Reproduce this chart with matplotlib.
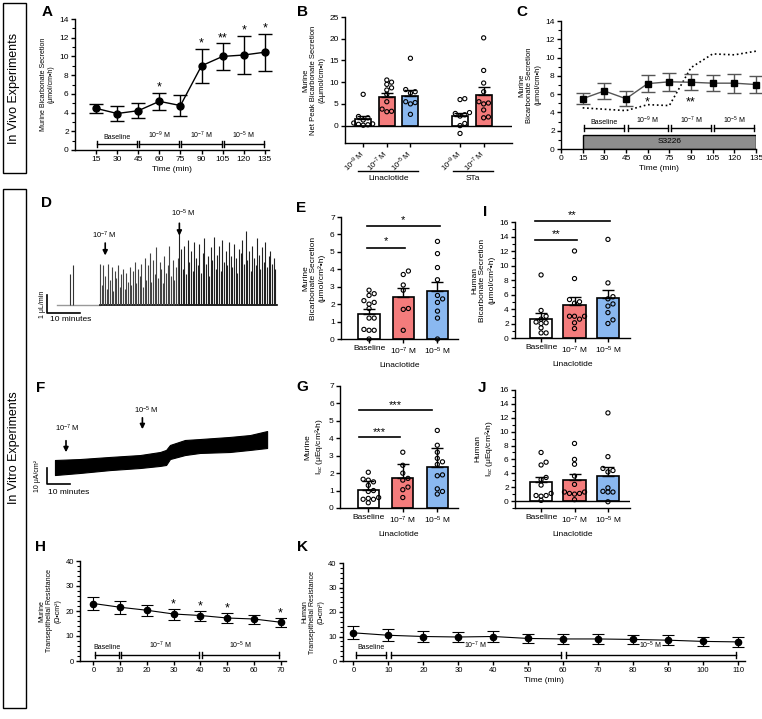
import numpy as np
import matplotlib
matplotlib.use("Agg")
import matplotlib.pyplot as plt
from matplotlib.patches import Rectangle
from matplotlib.ticker import MultipleLocator

plt.rcParams['font.family'] = ['Liberation Sans', 'DejaVu Sans']
plt.rcParams['mathtext.fontset'] = 'custom'
plt.rcParams['mathtext.rm'] = 'Liberation Sans'
plt.rcParams['mathtext.it'] = 'Liberation Sans:italic'
plt.rcParams['mathtext.bf'] = 'Liberation Sans:bold'

### A / C : in vivo time course
time_ac = [15, 30, 45, 60, 75, 90, 105, 120, 135]
mean_a = [4.45, 3.9, 4.2, 5.2, 4.75, 9.0, 10.0, 10.15, 10.45]
sem_a = [0.5, 0.85, 0.8, 0.9, 1.15, 1.8, 1.4, 2.05, 2.0]
stars_a = ['', '', '', '*', '', '*', '**', '*', '*']
mean_c = [5.5, 6.35, 5.5, 7.15, 7.35, 7.3, 7.2, 7.2, 7.05]
sem_c = [0.6, 0.85, 0.8, 0.9, 1.0, 0.85, 0.85, 1.05, 0.9]
lina_alone = [4.5, 4.35, 4.2, 4.85, 4.75, 8.9, 10.4, 10.3, 10.7]
stars_c = ['', '', '', '*', '', '**', '', '', '']
periods_ac = ['Baseline', r'10$^{-9}$ M', r'10$^{-7}$ M', r'10$^{-5}$ M']

### B : net peak secretion
labels_b = [r'10$^{-9}$ M', r'10$^{-7}$ M', r'10$^{-5}$ M', r'10$^{-9}$ M', r'10$^{-7}$ M']
mean_b = [1.6, 6.6, 6.9, 2.3, 7.1]
sem_b = [0.6, 0.9, 1.3, 0.7, 1.7]
pts_b = [[7.2, 2.1, 1.8, 1.3, 0.6, 0.4, 0.2, 0.1, 0.3],
         [10.5, 10.0, 9.5, 8.7, 8.2, 7.2, 5.5, 3.8, 3.3, 3.2],
         [15.5, 8.3, 7.8, 7.5, 5.5, 5.3, 5.0, 2.6],
         [6.2, 6.0, 3.0, 2.8, 2.5, 2.2, 0.5, 0.0, -1.8],
         [20.2, 12.7, 9.8, 7.8, 5.5, 5.2, 5.0, 3.6, 2.0, 1.8]]

### E, I, G, J : in vitro bars
groups = ['Baseline', r'10$^{-7}$ M', r'10$^{-5}$ M']
mean_e = [1.45, 2.4, 2.75]
sem_e = [0.3, 0.5, 0.5]
pts_e = [[2.8, 2.6, 2.5, 2.2, 2.1, 2.0, 1.75, 1.2, 1.2, 0.55, 0.5, 0.5, 0.0],
         [3.9, 3.7, 3.1, 2.8, 1.75, 1.7, 0.5],
         [5.6, 4.9, 4.1, 3.4, 2.5, 2.3, 2.1, 1.6, 1.2, 0.0]]
mean_i = [2.6, 4.5, 5.45]
sem_i = [0.8, 1.1, 1.2]
pts_i = [[8.7, 3.8, 3.0, 2.6, 2.2, 2.1, 2.0, 1.4, 0.7, 0.7],
         [12.0, 8.2, 5.3, 5.0, 4.8, 3.0, 3.0, 3.0, 2.6, 2.1, 1.3],
         [13.6, 7.6, 5.7, 5.4, 4.7, 4.4, 3.5, 2.5, 2.0]]
mean_g = [1.05, 1.72, 2.35]
sem_g = [0.5, 0.8, 1.1]
pts_g = [[2.05, 1.65, 1.6, 1.5, 1.3, 1.0, 0.95, 0.6, 0.55, 0.5, 0.5, 0.3],
         [3.2, 2.45, 2.0, 1.7, 1.6, 1.2, 1.05, 0.6],
         [4.45, 3.6, 3.2, 2.85, 2.65, 2.5, 1.9, 1.85, 1.1, 0.95, 0.8]]
mean_j = [2.7, 3.0, 3.65]
sem_j = [0.7, 0.85, 1.25]
pts_j = [[7.0, 5.6, 5.2, 3.4, 3.1, 2.3, 1.1, 0.8, 0.8, 0.7, 0.1],
         [8.3, 6.0, 5.3, 3.6, 2.4, 1.3, 1.3, 1.1, 1.0, 1.1, 0.2],
         [12.7, 6.4, 4.7, 4.4, 4.2, 1.9, 1.4, 1.3, 1.3, -0.1]]

### D : fluid secretion trace (uL/min)
d_early_t = [4.5, 5.5]
d_early_h = [1.7, 2.2]
d_heights_1 = [2.3, 1.1, 2.2, 1.6, 0.9, 2.3, 1.4, 2.1, 0.8, 1.9, 1.5, 2.2, 1.0, 1.7, 2.0, 0.9,
               1.8, 1.3, 2.1, 1.1, 1.9, 2.4, 1.2, 2.0, 1.6, 2.3, 1.0, 2.6, 1.4, 2.2, 2.9, 1.3,
               2.5, 1.7, 3.2, 1.5, 2.4, 2.0, 1.2, 2.7, 1.8, 2.2, 3.3, 1.6, 2.5, 1.4, 2.1, 2.6]
d_heights_2 = [4.0, 3.1, 2.0, 3.3, 1.7, 3.6, 2.4, 3.0, 1.9, 3.5, 2.6, 2.2, 3.4, 1.8, 2.9, 3.7,
               2.3, 2.7, 1.6, 3.2, 2.5, 3.8, 2.0, 2.8, 3.3, 1.9, 3.6, 2.4, 3.0, 2.2, 3.5, 2.7,
               2.1, 3.4, 2.6, 1.8, 3.1, 2.9, 3.6, 2.3, 4.1, 2.5, 3.0, 1.9, 3.3, 2.6, 2.2, 3.7,
               2.8, 2.0, 3.2, 2.4, 3.5, 2.1, 2.7, 3.0, 2.3, 2.6, 2.0]

### F : Isc trace envelope (uA/cm2)
f_time = [0, 10.9, 23.9, 37.0, 45.7, 48.3, 50.0, 56.5, 63.0, 76.0, 84.8, 92.2]
f_low = [3.1, 4.4, 6.2, 7.5, 8.8, 9.4, 13.1, 15.6, 16.9, 17.5, 18.8, 20.0]
f_high = [12.5, 13.1, 14.4, 15.6, 17.5, 18.8, 21.9, 25.0, 25.6, 26.9, 28.1, 30.6]

### H / K : transepithelial resistance
time_h = [0, 10, 20, 30, 40, 50, 60, 70]
mean_h = [23.0, 21.5, 20.3, 18.8, 18.2, 17.2, 16.8, 15.5]
sem_h = [2.7, 2.5, 2.3, 2.2, 2.0, 1.9, 1.8, 1.8]
stars_h = ['', '', '', '*', '*', '*', '', '*']
time_k = [0, 10, 20, 30, 40, 50, 60, 70, 80, 90, 100, 110]
mean_k = [11.5, 10.5, 10.0, 9.8, 10.0, 9.2, 9.0, 9.0, 8.8, 8.5, 8.0, 7.8]
sem_k = [2.6, 2.4, 2.3, 2.1, 2.2, 2.0, 2.0, 2.0, 2.0, 2.0, 2.0, 2.2]

RED = '#f47c7c'
BLUE = '#8ab8f0'

W, H = 762, 719
fig = plt.figure(figsize=(W / 100, H / 100), dpi=100)


def px_axes(l, t, r, b):
    return fig.add_axes([l / W, 1 - b / H, (r - l) / W, (b - t) / H])


def fig_text(x, y, s, **kw):
    fig.text(x / W, 1 - y / H, s, **kw)


def style(ax, fs=6):
    for s in ['top', 'right']:
        ax.spines[s].set_visible(False)
    for s in ['left', 'bottom']:
        ax.spines[s].set_linewidth(1.0)
    ax.tick_params(labelsize=fs, width=1.0, length=3, pad=1.5)
    ax.tick_params(which='minor', width=0.8, length=2)


def bracket(ax, segs, y, h, gap, labels, ly, fs=5):
    for (a, b), lab in zip(segs, labels):
        ax.plot([a + gap, b - gap], [y, y], color='k', lw=1, clip_on=False)
        for x in (a + gap, b - gap):
            ax.plot([x, x], [y - h, y + h], color='k', lw=1, clip_on=False)
        ax.text((a + b) / 2, ly, lab, ha='center', va='bottom', fontsize=fs)


def spread(vals, tol, step):
    vals = np.asarray(vals, float)
    offs = np.zeros(len(vals))
    done = []
    for i in np.argsort(vals):
        near = [offs[j] for j in done if abs(vals[j] - vals[i]) < tol]
        for c in [0, step, -step, 2 * step, -2 * step, 3 * step, -3 * step, 4 * step, -4 * step]:
            if all(abs(c - u) > step * 0.5 for u in near):
                offs[i] = c
                break
        done.append(i)
    return offs


def bar_panel(ax, pos, means, sems, pts, colors, width, tol, step):
    ax.bar(pos, means, width=width, color=colors, edgecolor='k', linewidth=1.2, zorder=2)
    ax.errorbar(pos, means, yerr=[np.zeros(len(sems)), sems], fmt='none', ecolor='k',
                elinewidth=1, capsize=4, capthick=1, zorder=3)
    for p, v in zip(pos, pts):
        ax.scatter(p + spread(v, tol, step), v, s=9, facecolors='none', edgecolors='k',
                   linewidths=0.8, zorder=4, clip_on=False)


def sig(ax, x0, x1, y, ys, s):
    ax.plot([x0, x1], [y, y], color='k', lw=1.2, clip_on=False)
    ax.text((x0 + x1) / 2, ys, s, ha='center', va='center', fontsize=8, clip_on=False)


### ---------- A ----------
axA = px_axes(75, 19, 269, 150)
style(axA)
axA.errorbar(time_ac, mean_a, yerr=sem_a, fmt='-o', color='k', ms=5, lw=1,
             elinewidth=1, capsize=5, capthick=1, clip_on=False)
for t, m, s, st in zip(time_ac, mean_a, sem_a, stars_a):
    if st:
        axA.text(t, m + s + 0.25, st, ha='center', va='baseline', fontsize=9)
axA.set_xlim(0, 138)
axA.set_ylim(0, 14)
axA.set_xticks(time_ac)
axA.set_yticks(range(0, 15, 2))
axA.yaxis.set_minor_locator(MultipleLocator(1))
bracket(axA, [(15, 45), (45, 75), (75, 105), (105, 135)], 0.64, 0.3, 0.7, periods_ac, 0.95)
axA.set_ylabel('Murine Bicarbonate Secretion\n(μmol/cm•h)', fontsize=5, labelpad=3)
axA.set_xlabel('Time (min)', fontsize=6, labelpad=2)

### ---------- B ----------
pos_b = [0, 1, 2, 4.1, 5.1]
axB = px_axes(345, 17, 512, 143)
style(axB)
bar_panel(axB, pos_b, mean_b, sem_b, pts_b, ['white', RED, BLUE, 'white', RED], 0.68, 0.9, 0.2)
axB.axhline(0, color='k', lw=1, zorder=5)
axB.set_xlim(-0.77, 6.3)
axB.set_ylim(-4, 25)
axB.set_yticks(range(0, 26, 5))
axB.set_xticks(pos_b)
axB.set_xticklabels(labels_b, rotation=45, ha='right', va='center', rotation_mode='anchor', fontsize=5.5)
axB.tick_params(axis='x', pad=4)
axB.set_ylabel('Murine\nNet Peak Bicarbonate Secretion\n(Δμmol/cm•h)', fontsize=5.5, labelpad=3)
tr = axB.get_xaxis_transform()
axB.plot([-0.2, 2.34], [-0.222, -0.222], color='k', lw=1, transform=tr, clip_on=False)
axB.plot([3.79, 5.49], [-0.222, -0.222], color='k', lw=1, transform=tr, clip_on=False)
axB.text(1.07, -0.28, 'Linaclotide', transform=tr, ha='center', va='center', fontsize=6)
axB.text(4.64, -0.28, 'STa', transform=tr, ha='center', va='center', fontsize=6)

### ---------- C ----------
axC = px_axes(561, 21, 756, 149)
style(axC)
axC.add_patch(Rectangle((15, 0), 120, 1.55, facecolor='#8e8e8e', edgecolor='k', lw=1, zorder=2))
axC.text(75, 0.78, 'S3226', ha='center', va='center', fontsize=6, zorder=3)
axC.plot(time_ac, lina_alone, ':', color='k', lw=1.2)
axC.errorbar(time_ac, mean_c, yerr=sem_c, fmt='-s', color='#555555', mfc='k', mec='k', ms=5,
             lw=1, ecolor='#555555', elinewidth=1, capsize=5, capthick=1, clip_on=False, zorder=4)
for t, st in zip(time_ac, stars_c):
    if st:
        axC.text(t, 4.75, st, ha='center', va='baseline', fontsize=9)
axC.set_xlim(0, 135)
axC.set_ylim(0, 14)
axC.set_xticks(range(0, 136, 15))
axC.set_yticks(range(0, 15, 2))
axC.yaxis.set_minor_locator(MultipleLocator(1))
bracket(axC, [(15, 45), (45, 75), (75, 105), (105, 135)], 2.3, 0.3, 1.2, periods_ac, 2.55)
axC.set_ylabel('Murine\nBicarbonate Secretion\n(μmol/cm•h)', fontsize=5.5, labelpad=3)
axC.set_xlabel('Time (min)', fontsize=6, labelpad=2)

### ---------- D ----------
axD = px_axes(40, 205, 280, 325)
axD.axis('off')
axD.set_xlim(-4.5, 68)
axD.set_ylim(-1.11, 5.56)
t1 = 13.6 + 0.5 * np.arange(len(d_heights_1))
t2 = 37.6 + 0.5 * np.arange(len(d_heights_2))
axD.plot([0.6, 13.6], [0, 0], color='#999999', lw=1)
axD.plot([13.6, 67.1], [0, 0], color='k', lw=1.2)
axD.vlines(d_early_t, 0, d_early_h, color='#333333', lw=0.8)
axD.vlines(t1, 0, d_heights_1, color='#444444', lw=0.8)
axD.vlines(t2, 0, d_heights_2, color='#222222', lw=0.8)
axD.plot([-2.4, -2.4, 7.6], [0.55, -0.45, -0.45], color='k', lw=1.2, clip_on=False)
axD.text(-3.6, 0.05, '1 μL/min', rotation=90, ha='center', va='center', fontsize=5)
axD.text(-1.5, -0.78, '10 minutes', ha='left', va='center', fontsize=6)
axD.annotate('', xy=(15.2, 2.6), xytext=(15.2, 3.6),
             arrowprops=dict(arrowstyle='-|>', color='k', lw=1.2, mutation_scale=7))
axD.text(15.0, 3.85, r'10$^{-7}$ M', ha='center', va='center', fontsize=5.5)
axD.annotate('', xy=(37.6, 3.7), xytext=(37.6, 4.7),
             arrowprops=dict(arrowstyle='-|>', color='k', lw=1.2, mutation_scale=7))
axD.text(38.8, 5.1, r'10$^{-5}$ M', ha='center', va='center', fontsize=5.5)

### ---------- F ----------
axF = px_axes(40, 400, 280, 500)
axF.axis('off')
axF.set_xlim(-6.5, 97.8)
axF.set_ylim(-12.5, 50)
axF.fill_between(f_time, f_low, f_high, color='k', lw=0.8)
axF.plot([-3.5, -3.5, 6.5], [7.5, -2.5, -2.5], color='k', lw=1.2, clip_on=False)
axF.text(-7.6, 2.5, '10 μA/cm²', rotation=90, ha='center', va='center', fontsize=5)
axF.text(-3.0, -7.5, '10 minutes', ha='left', va='center', fontsize=6)
axF.annotate('', xy=(4.8, 15.6), xytext=(4.8, 26.3),
             arrowprops=dict(arrowstyle='-|>', color='k', lw=1.2, mutation_scale=7))
axF.text(5.3, 32.5, r'10$^{-7}$ M', ha='center', va='center', fontsize=5.5)
axF.annotate('', xy=(38.0, 30.0), xytext=(38.0, 40.6),
             arrowprops=dict(arrowstyle='-|>', color='k', lw=1.2, mutation_scale=7))
axF.text(39.7, 43.75, r'10$^{-5}$ M', ha='center', va='center', fontsize=5.5)

### ---------- E ----------
pos3 = [0, 1, 2]
axE = px_axes(341, 217, 458, 339)
style(axE)
bar_panel(axE, pos3, mean_e, sem_e, pts_e, ['white', RED, BLUE], 0.62, 0.23, 0.15)
axE.set_xlim(-0.82, 2.6)
axE.set_ylim(0, 7)
axE.set_yticks(range(0, 8))
axE.set_xticks(pos3)
axE.set_xticklabels(groups, fontsize=6)
axE.set_xlabel('Linaclotide', fontsize=6, labelpad=4)
axE.set_ylabel('Murine\nBicarbonate Secretion\n(μmol/cm²•h)', fontsize=6, labelpad=3)
sig(axE, -0.06, 1.06, 5.25, 5.6, '*')
sig(axE, -0.06, 2.06, 6.5, 6.85, '*')

### ---------- I ----------
axI = px_axes(515, 222, 630, 338)
style(axI)
bar_panel(axI, pos3, mean_i, sem_i, pts_i, ['white', RED, BLUE], 0.66, 0.55, 0.15)
axI.set_xlim(-0.78, 2.66)
axI.set_ylim(0, 16)
axI.set_yticks(range(0, 17, 2))
axI.yaxis.set_minor_locator(MultipleLocator(1))
axI.set_xticks(pos3)
axI.set_xticklabels(groups, fontsize=6)
axI.set_xlabel('Linaclotide', fontsize=6, labelpad=4)
axI.set_ylabel('Human\nBicarbonate Secretion\n(μmol/cm²•h)', fontsize=6, labelpad=3)
sig(axI, -0.18, 1.07, 13.5, 14.3, '**')
sig(axI, -0.18, 2.06, 16.1, 16.9, '**')

### ---------- G ----------
axG = px_axes(340, 386, 458, 508)
style(axG)
bar_panel(axG, pos3, mean_g, sem_g, pts_g, ['white', RED, BLUE], 0.62, 0.23, 0.15)
axG.set_xlim(-0.82, 2.6)
axG.set_ylim(0, 7)
axG.set_yticks(range(0, 8))
axG.set_xticks(pos3)
axG.set_xticklabels(groups, fontsize=6)
axG.set_xlabel('Linaclotide', fontsize=6, labelpad=4)
axG.set_ylabel('Murine\nI$_{sc}$ (μEq/cm²•h)', fontsize=6, labelpad=3)
sig(axG, -0.26, 0.91, 4.06, 4.35, '***')
sig(axG, -0.26, 1.85, 5.6, 5.9, '***')

### ---------- J ----------
axJ = px_axes(515, 390, 630, 508)
style(axJ)
bar_panel(axJ, pos3, mean_j, sem_j, pts_j, ['white', RED, BLUE], 0.66, 0.58, 0.15)
axJ.axhline(0, color='k', lw=1, zorder=5)
axJ.set_xlim(-0.78, 2.66)
axJ.set_ylim(-1, 16)
axJ.set_yticks(range(0, 17, 2))
axJ.yaxis.set_minor_locator(MultipleLocator(1))
axJ.set_xticks(pos3)
axJ.set_xticklabels(groups, fontsize=6)
axJ.set_xlabel('Linaclotide', fontsize=6, labelpad=4)
axJ.set_ylabel('Human\nI$_{sc}$ (μEq/cm²•h)', fontsize=6, labelpad=3)

### ---------- H ----------
axH = px_axes(80, 561, 286, 661)
style(axH, fs=5.5)
axH.errorbar(time_h, mean_h, yerr=sem_h, fmt='-o', color='k', ms=4.5, lw=0.8,
             elinewidth=0.8, capsize=4, capthick=0.8)
for t, m, s, st in zip(time_h, mean_h, sem_h, stars_h):
    if st:
        axH.text(t, m + s + 0.6, st, ha='center', va='baseline', fontsize=9)
axH.set_xlim(-5, 72)
axH.set_ylim(0, 40)
axH.set_xticks(time_h)
axH.set_yticks(range(0, 41, 10))
axH.yaxis.set_minor_locator(MultipleLocator(2))
bracket(axH, [(0, 10), (10, 40), (40, 70)], 2.5, 1.2, 0.5,
        ['Baseline', r'10$^{-7}$ M', r'10$^{-5}$ M'], 4.0)
axH.set_ylabel('Murine\nTransepithelial Resistance\n(Ω•cm²)', fontsize=5, labelpad=3)

### ---------- K ----------
axK = px_axes(343, 563, 745, 661)
style(axK, fs=5.5)
axK.errorbar(time_k, mean_k, yerr=sem_k, fmt='-o', color='k', ms=4.5, lw=0.8,
             elinewidth=0.8, capsize=4, capthick=0.8)
axK.set_xlim(-3, 112)
axK.set_ylim(0, 40)
axK.set_xticks(time_k)
axK.set_yticks(range(0, 41, 10))
axK.yaxis.set_minor_locator(MultipleLocator(2))
bracket(axK, [(0, 10), (10, 60), (60, 110)], 2.5, 1.2, 0.7,
        ['Baseline', r'10$^{-7}$ M', r'10$^{-5}$ M'], 4.0)
axK.set_ylabel('Human\nTransepithelial Resistance\n(Ω•cm²)', fontsize=5, labelpad=3)
axK.set_xlabel('Time (min)', fontsize=6, labelpad=2)

### panel letters
for lab, x, y in [('A', 47, 12), ('B', 302, 12), ('C', 522, 12), ('D', 46, 203),
                  ('E', 301, 208), ('I', 485, 212), ('F', 41, 388), ('G', 302, 387),
                  ('J', 482, 388), ('H', 40, 547), ('K', 302, 547)]:
    fig_text(x, y, lab, fontsize=11, fontweight='bold', ha='center', va='center')

### side boxes
fig.add_artist(Rectangle((3 / W, 1 - 173 / H), 23 / W, 170 / H, transform=fig.transFigure,
                         fill=False, ec='k', lw=1))
fig.add_artist(Rectangle((3 / W, 1 - 708 / H), 23 / W, (708 - 189) / H, transform=fig.transFigure,
                         fill=False, ec='k', lw=1))
fig_text(14.5, 88, 'In Vivo Experiments', rotation=90, ha='center', va='center', fontsize=9)
fig_text(14.5, 448, 'In Vitro Experiments', rotation=90, ha='center', va='center', fontsize=9)

fig.savefig('out.png', dpi=100)
